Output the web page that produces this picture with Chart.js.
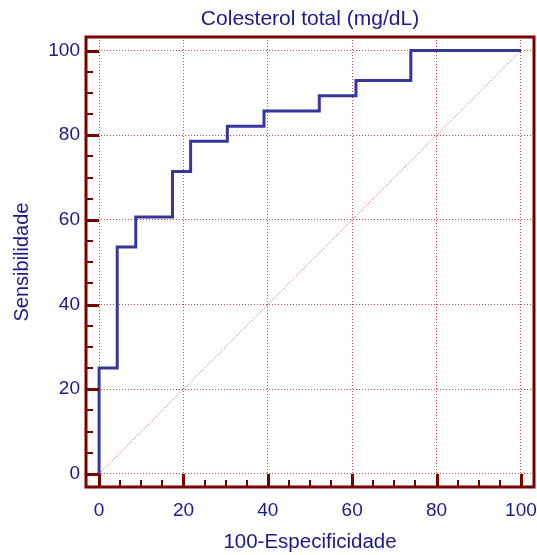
<!DOCTYPE html>
<html>
<head>
<meta charset="utf-8">
<script src="https://cdn.jsdelivr.net/npm/chart.js@4"></script>
<style>
html,body{margin:0;padding:0;background:#fff;}
#wrap{width:537px;height:555px;}
</style>
</head>
<body>
<div id="wrap"><canvas id="c" width="537" height="555"></canvas></div>
<script>
// ROC curve points
const specComplement = [0, 0, 4.3, 8.7, 17.4, 21.7, 30.4, 39.1, 52.2, 60.9, 73.9, 100];
const sensitivity    = [0, 25, 53.6, 60.7, 71.4, 78.6, 82.1, 85.7, 89.3, 92.9, 100, 100];
const refLineX = [0, 100];
const refLineY = [0, 100];
const majorTicks = [0, 20, 40, 60, 80, 100];
const minorTicks = [5, 10, 15, 25, 30, 35, 45, 50, 55, 65, 70, 75, 85, 90, 95];
const titleText = 'Colesterol total (mg/dL)';
const xTitle = '100-Especificidade';
const yTitle = 'Sensibilidade';

const TEXT = '#1a1a8c';
const FRAME = '#7a0000';
const GRID = 'rgba(195,60,60,0.9)';
const FONT = "'Liberation Sans', Arial, sans-serif";

const rocData = specComplement.map((x, i) => ({x: x, y: sensitivity[i]}));
const refData = refLineX.map((x, i) => ({x: x, y: refLineY[i]}));

const framePlugin = {
  id: 'frame',
  afterDraw(chart) {
    const ctx = chart.ctx, a = chart.chartArea;
    const xs = chart.scales.x, ys = chart.scales.y;
    ctx.save();
    ctx.strokeStyle = FRAME;
    ctx.lineCap = 'butt';
    ctx.lineWidth = 3;
    majorTicks.forEach(v => {
      const py = Math.round(ys.getPixelForValue(v)) + 0.5;
      ctx.beginPath(); ctx.moveTo(a.left, py); ctx.lineTo(a.left + 13, py); ctx.stroke();
      const px = Math.round(xs.getPixelForValue(v)) + 0.5;
      ctx.beginPath(); ctx.moveTo(px, a.bottom); ctx.lineTo(px, a.bottom - 13); ctx.stroke();
    });
    ctx.lineWidth = 2;
    minorTicks.forEach(v => {
      const py = Math.round(ys.getPixelForValue(v));
      ctx.beginPath(); ctx.moveTo(a.left, py); ctx.lineTo(a.left + 7, py); ctx.stroke();
      const px = Math.round(xs.getPixelForValue(v));
      ctx.beginPath(); ctx.moveTo(px, a.bottom); ctx.lineTo(px, a.bottom - 7); ctx.stroke();
    });
    ctx.lineWidth = 3;
    ctx.strokeRect(a.left, a.top, a.right - a.left, a.bottom - a.top);
    ctx.restore();
  }
};

function fixTicks(scale) {
  scale.ticks = majorTicks.map(v => ({value: v}));
}

new Chart(document.getElementById('c'), {
  type: 'line',
  data: {
    datasets: [
      {
        data: refData,
        borderColor: 'rgba(190,60,60,0.95)',
        borderWidth: 1,
        borderDash: [1, 2],
        pointRadius: 0,
        fill: false
      },
      {
        data: rocData,
        stepped: 'before',
        borderColor: '#36369c',
        borderWidth: 3,
        pointRadius: 0,
        fill: false
      }
    ]
  },
  options: {
    responsive: false,
    animation: false,
    devicePixelRatio: 1,
    layout: {padding: {top: 0, right: 3, bottom: 0, left: 0}},
    plugins: {
      legend: {display: false},
      tooltip: {enabled: false},
      title: {
        display: true,
        text: titleText,
        fullSize: false,
        align: 'center',
        color: TEXT,
        font: {family: FONT, size: 21, weight: 'normal', lineHeight: 1.2},
        padding: {top: 6.5, bottom: 5.3}
      }
    },
    scales: {
      x: {
        type: 'linear',
        min: -3.1,
        max: 103.1,
        afterBuildTicks: fixTicks,
        afterFit(s) { s.height = 68; s.paddingLeft = 0; s.paddingRight = 0; },
        grid: {color: GRID, lineWidth: 1, drawTicks: false},
        border: {display: false, dash: [1, 2]},
        ticks: {color: TEXT, padding: 12, maxRotation: 0, autoSkip: false,
                font: {family: FONT, size: 19}},
        title: {display: true, text: xTitle, color: TEXT,
                font: {family: FONT, size: 20.5, lineHeight: 1.2}, padding: {top: 0, bottom: 0}}
      },
      y: {
        type: 'linear',
        min: -3.1,
        max: 103.2,
        afterBuildTicks: fixTicks,
        afterFit(s) { s.width = 86; s.paddingTop = 0; s.paddingBottom = 0; },
        grid: {color: GRID, lineWidth: 1, drawTicks: false},
        border: {display: false, dash: [1, 2]},
        ticks: {color: TEXT, padding: 6, autoSkip: false,
                font: {family: FONT, size: 19}},
        title: {display: true, text: yTitle, color: TEXT,
                font: {family: FONT, size: 20, lineHeight: 1.2}, padding: {top: 10, bottom: 0}}
      }
    }
  },
  plugins: [framePlugin]
});
</script>
</body>
</html>
